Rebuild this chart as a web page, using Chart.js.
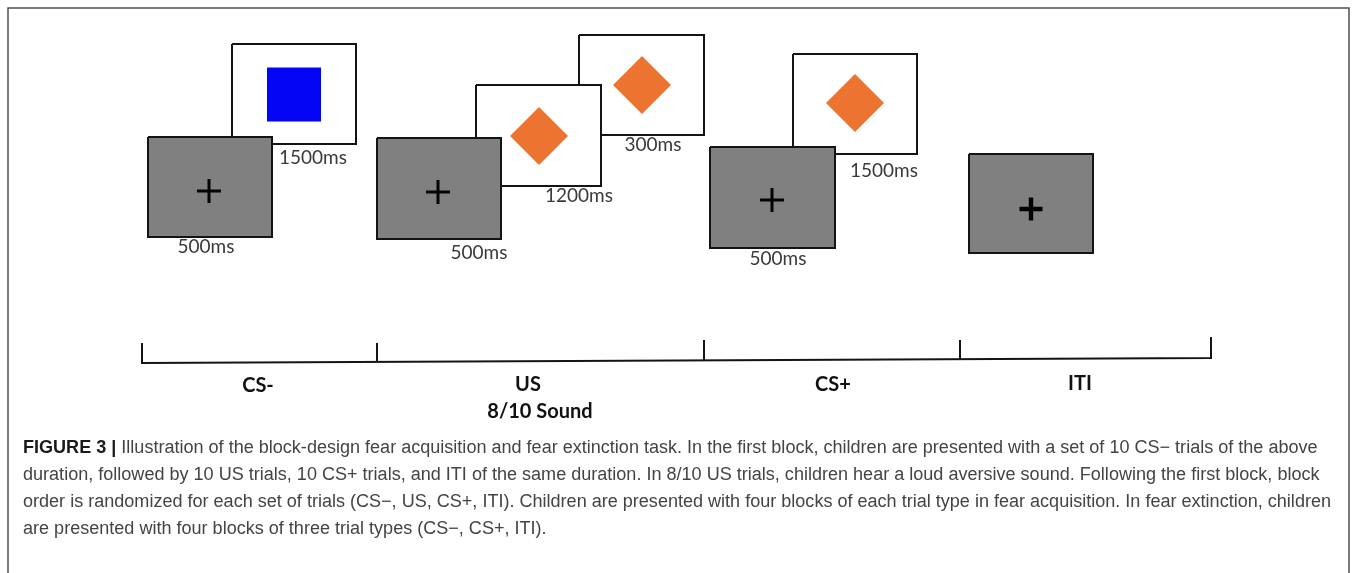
<!DOCTYPE html>
<html><head><meta charset="utf-8">
<script src="https://cdn.jsdelivr.net/npm/chart.js@4.4.1/dist/chart.umd.min.js"></script>
<style>html,body{margin:0;padding:0;background:#fff;overflow:hidden}canvas{display:block}</style>
</head><body>
<canvas id="c" width="1357" height="573"></canvas>
<script>
// ---------------- data (diagram units: x 0..1357, y 0..573 from top) ----------------
const trialTypes = ['CS-', 'US', 'CS+', 'ITI'];
const trialNotes = ['', '8/10 Sound', '', ''];
const blockBoundsX = [142, 377, 704, 960, 1211];
const blockTickTopY = [343, 343, 340, 340, 337];
const blockBaseY = [363, 362, 360, 359, 358];
const trialLabelX = [258, 528, 833, 1080];
const trialLabelY = [386, 385, 385, 384];
const trialNoteY = [0, 412, 0, 0];

// fixation screens (grey, with cross)
const fixationX0 = [148, 377, 710, 969];
const fixationX1 = [272, 501, 835, 1093];
const fixationY0 = [137, 138, 147, 154];
const fixationY1 = [237, 239, 248, 253];
const crossX = [209, 438, 772, 1031];
const crossY = [191, 192, 200, 209];
const fixationDurations = ['500ms', '500ms', '500ms'];
const fixationLabelX = [206, 479, 778];
const fixationLabelY = [247, 253, 259];

// stimulus screens (white) : A = CS- (blue), B = US 1200, C = US 300, D = CS+
const stimulusX0 = [232, 476, 579, 793];
const stimulusX1 = [356, 601, 704, 917];
const stimulusY0 = [44, 85, 35, 54];
const stimulusY1 = [144, 186, 135, 154];
const stimulusShape = ['square', 'diamond', 'diamond', 'diamond'];
const stimulusShapeX = [294, 539, 642, 855];
const stimulusShapeY = [94.5, 136, 85, 103];
const stimulusDurations = ['1500ms', '1200ms', '300ms', '1500ms'];
const stimulusLabelX = [313, 579, 653, 884];
const stimulusLabelY = [158, 196, 145, 171];

const figureFrameX = [8, 8, 1349, 1349];
const figureFrameY = [573, 8, 8, 573];

const captionBold = 'FIGURE 3 | ';
const captionLines = [
  'Illustration of the block-design fear acquisition and fear extinction task. In the first block, children are presented with a set of 10 CS\u2212 trials of the above',
  'duration, followed by 10 US trials, 10 CS+ trials, and ITI of the same duration. In 8/10 US trials, children hear a loud aversive sound. Following the first block, block',
  'order is randomized for each set of trials (CS\u2212, US, CS+, ITI). Children are presented with four blocks of each trial type in fear acquisition. In fear extinction, children',
  'are presented with four blocks of three trial types (CS\u2212, CS+, ITI).'
];

// ---------------- build datasets ----------------
function rectPoints(x0, x1, y0, y1) {
  return [{x:x0,y:y0},{x:x1,y:y0},{x:x1,y:y1},{x:x0,y:y1},{x:x0,y:y0}];
}
const datasets = [];
datasets.push({
  data: figureFrameX.map((x, i) => ({x, y: figureFrameY[i]})),
  borderColor: '#505050', borderWidth: 1.5, pointRadius: 0, fill: false, order: 100, tension: 0
});
const stimLayer = [88, 89, 90, 87];
stimulusX0.forEach((x0, i) => {
  datasets.push({
    data: rectPoints(x0, stimulusX1[i], stimulusY0[i], stimulusY1[i]),
    borderColor: '#141414', borderWidth: 2, backgroundColor: '#ffffff',
    fill: 'shape', pointRadius: 0, order: stimLayer[i], tension: 0, borderJoinStyle: 'miter'
  });
});
datasets.push({
  data: stimulusShapeX.map((x, i) => ({x, y: stimulusShapeY[i]})).filter((p, i) => stimulusShape[i] === 'square'),
  showLine: false, pointStyle: 'rect', pointRadius: 38.2, backgroundColor: '#0505f5', borderWidth: 0, order: 80
});
datasets.push({
  data: stimulusShapeX.map((x, i) => ({x, y: stimulusShapeY[i]})).filter((p, i) => stimulusShape[i] === 'diamond'),
  showLine: false, pointStyle: 'rectRot', pointRadius: 29, backgroundColor: '#ED7430', borderWidth: 0, order: 80
});
fixationX0.forEach((x0, i) => {
  datasets.push({
    data: rectPoints(x0, fixationX1[i], fixationY0[i], fixationY1[i]),
    borderColor: '#141414', borderWidth: 2, backgroundColor: '#808080',
    fill: 'shape', pointRadius: 0, order: 70 - i, tension: 0, borderJoinStyle: 'miter'
  });
});
datasets.push({
  data: crossX.slice(0, 3).map((x, i) => ({x, y: crossY[i]})),
  showLine: false, pointStyle: 'cross', pointRadius: 12, borderColor: '#050505', borderWidth: 3, order: 60
});
datasets.push({
  data: crossX.slice(3).map((x, i) => ({x, y: crossY[i + 3]})),
  showLine: false, pointStyle: 'cross', pointRadius: 11.5, borderColor: '#000', borderWidth: 4.4, order: 60
});
const tl = [];
const n = blockBoundsX.length;
tl.push({x: blockBoundsX[0], y: blockTickTopY[0]}, {x: blockBoundsX[0], y: blockBaseY[0]},
        {x: blockBoundsX[n-1], y: blockBaseY[n-1]}, {x: blockBoundsX[n-1], y: blockTickTopY[n-1]});
for (let i = 1; i < n - 1; i++) {
  tl.push({x: blockBoundsX[i], y: null});
  tl.push({x: blockBoundsX[i], y: blockTickTopY[i]}, {x: blockBoundsX[i], y: blockBaseY[i]});
}
datasets.push({
  data: tl, borderColor: '#141414', borderWidth: 2, pointRadius: 0, spanGaps: false,
  fill: false, order: 50, tension: 0, borderJoinStyle: 'miter'
});

// ---------------- text plugin ----------------
const textPlugin = {
  id: 'diagramText',
  afterDatasetsDraw(chart) {
    const ctx = chart.ctx, xs = chart.scales.x, ys = chart.scales.y;
    ctx.save();
    ctx.textAlign = 'center';
    ctx.textBaseline = 'middle';
    ctx.fillStyle = '#3a3a3a';
    ctx.font = '19px Lato, "Open Sans", sans-serif';
    fixationDurations.forEach((t, i) => {
      ctx.fillText(t, xs.getPixelForValue(fixationLabelX[i]), ys.getPixelForValue(fixationLabelY[i]));
    });
    stimulusDurations.forEach((t, i) => {
      ctx.fillText(t, xs.getPixelForValue(stimulusLabelX[i]), ys.getPixelForValue(stimulusLabelY[i]));
    });
    ctx.fillStyle = '#111';
    ctx.font = 'bold 20px Lato, "Open Sans", sans-serif';
    trialTypes.forEach((t, i) => {
      ctx.fillText(t, xs.getPixelForValue(trialLabelX[i]), ys.getPixelForValue(trialLabelY[i]));
      if (trialNotes[i]) {
        ctx.fillText(trialNotes[i], xs.getPixelForValue(trialLabelX[i] + 12), ys.getPixelForValue(trialNoteY[i]));
      }
    });
    ctx.restore();

    // caption
    const left = 23, right = 1331;
    const lineY = [448, 475, 502, 529];
    const regFont = '18px "Liberation Sans Narrow", "Liberation Sans", Arial, sans-serif';
    const boldFont = 'bold 18px "Liberation Sans Narrow", "Liberation Sans", Arial, sans-serif';
    ctx.save();
    ctx.textAlign = 'left';
    ctx.textBaseline = 'middle';
    ctx.font = regFont;
    const s = (right - left) / ctx.measureText(captionLines[2]).width;
    captionLines.forEach((line, i) => {
      ctx.save();
      ctx.translate(left, lineY[i]);
      ctx.scale(s, 1);
      let x = 0;
      if (i === 0) {
        ctx.font = boldFont;
        ctx.fillStyle = '#1a1a1a';
        ctx.fillText(captionBold, 0, 0);
        x = ctx.measureText(captionBold).width;
      }
      ctx.font = regFont;
      ctx.fillStyle = '#444';
      ctx.fillText(line, x, 0);
      ctx.restore();
    });
    ctx.restore();
  }
};

new Chart(document.getElementById('c'), {
  type: 'line',
  data: { datasets },
  options: {
    responsive: false,
    animation: false,
    events: [],
    layout: { padding: 0, autoPadding: false },
    plugins: { legend: { display: false }, tooltip: { enabled: false } },
    scales: {
      x: { type: 'linear', min: 0, max: 1357, display: false },
      y: { type: 'linear', min: 0, max: 573, reverse: true, display: false }
    }
  },
  plugins: [textPlugin]
});
</script>
</body></html>
